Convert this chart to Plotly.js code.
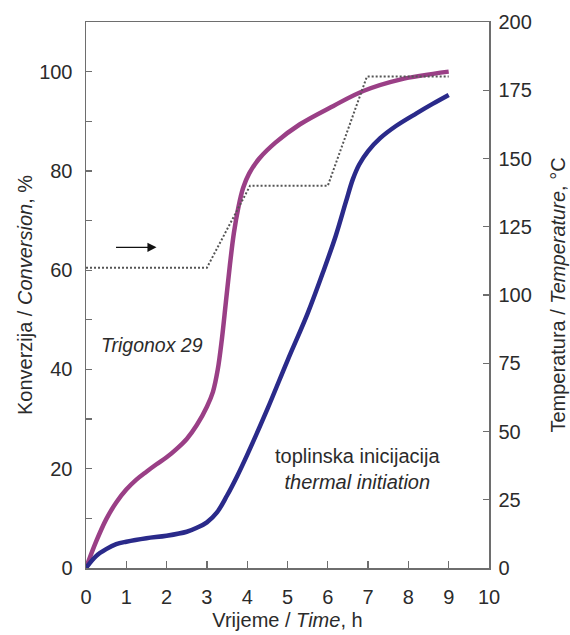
<!DOCTYPE html>
<html>
<head>
<meta charset="utf-8">
<script src="https://cdn.plot.ly/plotly-3.0.1.min.js"></script>
<style>html,body{margin:0;padding:0;background:#fff;}#chart{width:570px;height:635px;}</style>
</head>
<body>
<div id="chart"></div>
<script>
// Time, h (Trigonox 29)
const timeTrig = [0, 0.25, 0.5, 0.75, 1, 1.25, 1.5, 1.75, 2, 2.25, 2.5, 2.75, 3.0, 3.15, 3.27, 3.37, 3.47, 3.57, 3.67, 3.78, 3.9, 4.05, 4.3, 4.7, 5.31, 6.14, 6.88, 7.79, 9];
// Conversion, % (Trigonox 29)
const convTrig = [0, 5.3, 9.8, 13.2, 15.8, 17.8, 19.4, 20.9, 22.3, 24.0, 26.0, 28.8, 32.5, 35.5, 40.0, 46.0, 53.5, 61.0, 67.5, 72.6, 76.6, 79.5, 82.5, 85.7, 89.4, 93.1, 96.1, 98.4, 100];

// Time, h (thermal initiation)
const timeTherm = [0, 0.25, 0.5, 0.75, 1, 1.5, 2, 2.5, 2.75, 3, 3.25, 3.5, 3.75, 4, 4.5, 5, 5.5, 5.9, 6.2, 6.45, 6.62, 6.78, 7.0, 7.3, 7.7, 8.2, 8.6, 9];
// Conversion, % (thermal initiation)
const convTherm = [0, 2.4, 3.8, 4.8, 5.3, 6.0, 6.5, 7.3, 8.1, 9.2, 11.2, 14.6, 18.5, 22.8, 32.0, 41.8, 51.3, 60.0, 67.0, 73.8, 78.3, 81.3, 84.0, 86.6, 89.1, 91.6, 93.5, 95.3];

// Temperature program, °C
const timeTemp = [0, 3, 4.07, 6, 6.97, 9];
const tempC = [110, 110, 140, 140, 180, 180];

const leftTicks = [0, 10, 20, 30, 40, 50, 60, 70, 80, 90, 100];
const leftTickText = ['0', '', '20', '', '40', '', '60', '', '80', '', '100'];
const rightTicks = [0, 25, 50, 75, 100, 125, 150, 175, 200];
const xTicks = [0, 1, 2, 3, 4, 5, 6, 7, 8, 9, 10];

const FONT = 'Liberation Sans, Arial, sans-serif';
const AX = '#6e6e6e';
const TXT = '#2b2b2b';

const traces = [
  {x: timeTemp, y: tempC, yaxis: 'y2', mode: 'lines', name: 'Temperatura',
   line: {color: '#555', width: 2, dash: '2px,2px'}, hoverinfo: 'skip'},
  {x: timeTrig, y: convTrig, mode: 'lines', name: 'Trigonox 29',
   line: {color: '#9a3f86', width: 4.5, shape: 'spline', smoothing: 1}},
  {x: timeTherm, y: convTherm, mode: 'lines', name: 'thermal initiation',
   line: {color: '#2a2a8a', width: 4.5, shape: 'spline', smoothing: 1}}
];

const layout = {
  width: 570, height: 635,
  margin: {l: 86, r: 81, t: 22, b: 67, pad: 0},
  paper_bgcolor: '#fff', plot_bgcolor: '#fff',
  showlegend: false,
  font: {family: FONT, size: 20, color: TXT},
  xaxis: {
    range: [0, 10], tickvals: xTicks, ticks: 'inside', ticklen: 7, tickwidth: 1.3, tickcolor: AX,
    showline: true, linecolor: AX, linewidth: 1.5, mirror: true,
    showgrid: false, zeroline: false, ticklabelstandoff: 10,
    tickfont: {family: FONT, size: 20, color: TXT},
    title: {text: 'Vrijeme / <i>Time</i>, h', font: {family: FONT, size: 20, color: TXT}, standoff: 6}
  },
  yaxis: {
    range: [0, 110], tickvals: leftTicks, ticktext: leftTickText,
    ticks: 'inside', ticklen: 6, tickwidth: 1.3, tickcolor: AX,
    showline: true, linecolor: AX, linewidth: 1.5, mirror: true,
    showgrid: false, zeroline: false, ticklabelstandoff: 8,
    tickfont: {family: FONT, size: 20, color: TXT},
    title: {text: 'Konverzija / <i>Conversion</i>, %', font: {family: FONT, size: 20, color: TXT}, standoff: 1}
  },
  yaxis2: {
    overlaying: 'y', side: 'right', range: [0, 200], tickvals: rightTicks,
    ticks: 'inside', ticklen: 6, tickwidth: 1.3, tickcolor: AX,
    showline: true, linecolor: AX, linewidth: 1.5,
    showgrid: false, zeroline: false, ticklabelstandoff: 4,
    tickfont: {family: FONT, size: 20, color: TXT},
    title: {text: 'Temperatura / <i>Temperature</i>, °C', font: {family: FONT, size: 20, color: TXT}, standoff: 20}
  },
  annotations: [
    {x: 1.63, y: 45, xref: 'x', yref: 'y', text: '<i>Trigonox 29</i>', showarrow: false,
     font: {family: FONT, size: 19.5, color: TXT}},
    {x: 6.73, y: 20, xref: 'x', yref: 'y', text: 'toplinska inicijacija<br><i>thermal initiation</i>', showarrow: false,
     align: 'center', font: {family: FONT, size: 20, color: TXT}},
    {x: 1.75, y: 64.6, xref: 'x', yref: 'y', text: '', showarrow: true, ax: -42, ay: 0,
     arrowhead: 2, arrowsize: 1.3, arrowwidth: 1.4, arrowcolor: '#111'}
  ]
};

Plotly.newPlot('chart', traces, layout, {displayModeBar: false, staticPlot: true});
</script>
</body>
</html>
